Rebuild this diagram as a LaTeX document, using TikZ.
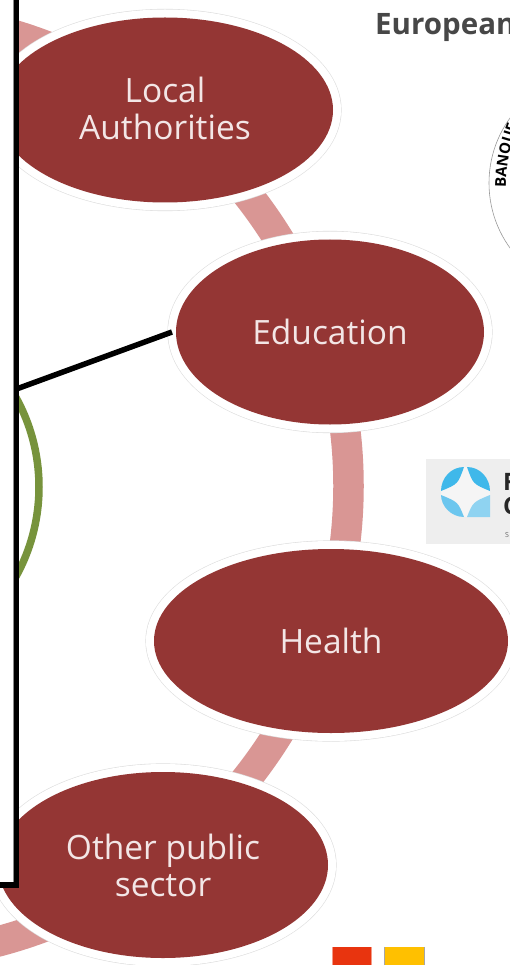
\documentclass[tikz,border=0pt]{standalone}
\usepackage{fontspec}
\setmainfont{Open Sans}
\usetikzlibrary{shapes.geometric,decorations.text}
\definecolor{darkred}{HTML}{943634}
\definecolor{ringpink}{HTML}{D99694}
\definecolor{leaf}{HTML}{77933C}
\definecolor{halo}{HTML}{DEDEDE}
\definecolor{lab}{HTML}{F3E6E6}
\definecolor{swatchred}{HTML}{E8340F}
\definecolor{swatchyellow}{HTML}{FFC000}
\definecolor{logobg}{HTML}{EEEEEE}
\definecolor{bluetop}{HTML}{3FB8EA}
\definecolor{bluelow}{HTML}{6CC6EE}
\definecolor{bluepale}{HTML}{8FD3F1}
\tikzset{
  sector/.style={ellipse,fill=darkred,text=lab,inner sep=0pt,outer sep=0pt,align=center,
    font=\fontsize{33.5}{37}\selectfont,
    preaction={draw=halo,line width=17.2pt},
    preaction={draw=white,line width=16pt}},
  heavy/.style={draw=black,line width=5.5pt,line join=miter},
}
\begin{document}
\begin{tikzpicture}[x=1pt,y=-1pt]
\useasboundingbox (0,0) rectangle (510,965);
\clip (0,0) rectangle (510,965);
\fill[white] (0,0) rectangle (510,965);
% ring
\draw[ringpink,line width=30.5pt] (-122.5,486) circle [radius=471];
% title
\node[anchor=base west,inner sep=0pt,text=black!72,font=\fontsize{29.5}{33}\selectfont\bfseries] (title) at (375,35) {European};
% seal
\draw[black!40,line width=.6pt] (600,183) circle [radius=111];
\path[postaction={decorate},decoration={text along path,text align={left},
  text={|\fontsize{15}{17}\selectfont\bfseries|BANQUE}}]
  (506,188) .. controls (506,168) and (509,148) .. (518,125);
% logo
\fill[logobg] (426,459) rectangle (510,544);
\fill[white!96!black] (441,492) .. controls (441,478) and (451,467) .. (465.5,467)
   .. controls (480,467) and (490,478) .. (490,492) -- (490,517) -- (465.5,517)
   .. controls (451,517) and (441,506) .. (441,492) -- cycle;
\fill[bluetop] (441,491) .. controls (441,478) and (451,467) .. (464,467)
   .. controls (458,484) and (458,484) .. (441,491) -- cycle;
\fill[bluetop] (490,491) .. controls (490,478) and (480,467) .. (467,467)
   .. controls (473,484) and (473,484) .. (490,491) -- cycle;
\fill[bluelow] (441,495) .. controls (458,502) and (458,502) .. (464,517)
   .. controls (451,517) and (441,506) .. (441,495) -- cycle;
\fill[bluepale] (490,495) .. controls (473,502) and (473,502) .. (467,517)
   -- (490,517) -- cycle;
\node[anchor=base west,inner sep=0pt,font=\fontsize{24}{24}\selectfont\bfseries,text=black!85] (logoa) at (503,490) {F};
\node[anchor=base west,inner sep=0pt,font=\fontsize{24}{24}\selectfont\bfseries,text=black!85] (logob) at (503,514) {C};
\node[anchor=base west,inner sep=0pt,font=\fontsize{7}{8}\selectfont,text=black!60] (logoc) at (505,537) {S};
% sectors
\node[sector,minimum width=336pt,minimum height=185pt] (local) at (165,110) {\raisebox{4pt}{Local}\\\raisebox{4pt}{Authorities}};
\node[sector,minimum width=308pt,minimum height=185pt] (edu) at (330,332) {Education};
\node[sector,minimum width=354pt,minimum height=184pt] (health) at (331,641) {Health};
\node[sector,minimum width=330pt,minimum height=186pt] (other) at (163,865) {Other public\\sector};
% green arc and box
\draw[leaf,line width=7.5pt] (-146,487) circle [radius=185];
\fill[white] (-10,-10) rectangle (16,885);
\draw[black!45,line width=2pt] (14,-5) -- (14,885);
\draw[heavy] (-10,885) -- (16.5,885) -- (16.5,-10);
\coordinate (boxside) at (16.5,389);
\coordinate (eduend) at ([xshift=-4pt]edu.west);
\draw[black,line width=5.5pt] (boxside) -- (eduend);
% swatches
\fill[swatchred!50!white] (332,947) rectangle (372,965);
\fill[black!35] (384,947) rectangle (425,965);
\fill[swatchred] (333,947) rectangle (371,965);
\fill[swatchyellow] (385,947) rectangle (424,965);
\end{tikzpicture}
\end{document}
